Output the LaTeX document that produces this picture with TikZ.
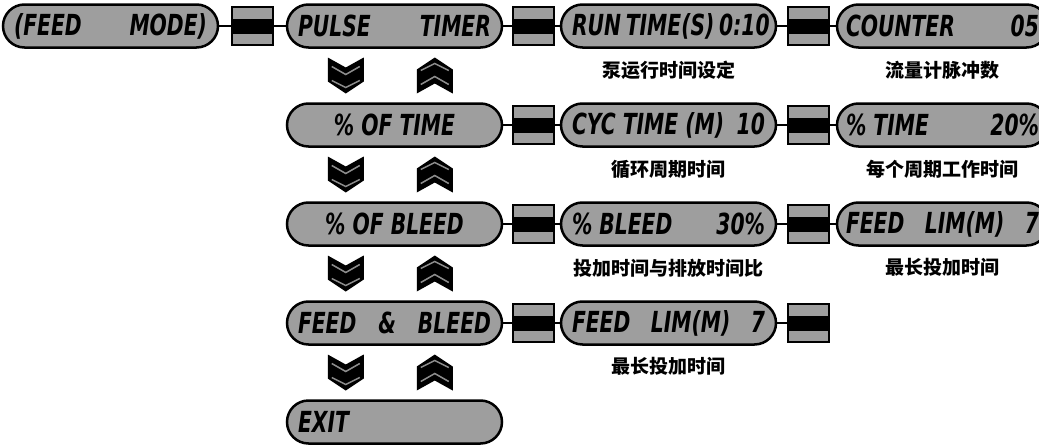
\documentclass[tikz,border=0pt]{standalone}
\usepackage{fontspec}
\usetikzlibrary{positioning,calc}

\newfontfamily\lcdfont[FakeStretch=0.7]{DejaVu Sans}
\newfontfamily\cjkfont{Noto Sans CJK SC}
\newcommand{\disp}[1]{\hbox to 193pt{#1}}

\begin{document}
\begin{tikzpicture}[
        x=1pt, y=1pt, node
        distance=99pt, line width=2pt
    ]

    \tikzstyle{pill} = [rectangle,draw,line width=2.5pt,rounded corners=21.5pt,fill=black!38,
        minimum width=215pt,minimum height=43pt,inner sep=0pt,
        font=\lcdfont\bfseries\itshape\fontsize{29}{31}\selectfont]
    \tikzstyle{link} = [rectangle,draw,line width=1.5pt,fill=black!38,minimum width=41pt,minimum height=38pt,
        path picture={\fill[black] ([yshift=-7.5pt]path picture bounding box.west) rectangle ([yshift=7.5pt]path picture bounding box.east);}]
    \tikzstyle{note} = [inner sep=0pt,font=\cjkfont\bfseries\fontsize{19}{22}\selectfont]

    \tikzset{
        chevdown/.pic={
            \fill (-18,18) -- (0,8) -- (18,18) -- (18,-6) -- (0,-18) -- (-18,-6) -- cycle;
            \draw[black!45,line width=1.5pt] (-14,9) -- (0,1) -- (14,9);
            \draw[black!45,line width=1.5pt] (-14,-5) -- (0,-12) -- (14,-5);
        },
        chevup/.pic={
            \fill (-18,-18) -- (0,-8) -- (18,-18) -- (18,6) -- (0,18) -- (-18,6) -- cycle;
            \draw[black!45,line width=1.5pt] (-14,-9) -- (0,-1) -- (14,-9);
            \draw[black!45,line width=1.5pt] (-14,5) -- (0,12) -- (14,5);
        }
    }

    \useasboundingbox (0,0) rectangle (1039,-447);

    \node[pill] (mode) at (110.5,-26) {\disp{(FEED\hfill MODE)}};
    \node[link] (l1)      [right=12pt of mode]    {};
    \node[pill] (pulse)   [right=12pt of l1]      {\disp{PULSE\hfill TIMER}};
    \node[link] (l2)      [right=9pt of pulse]    {};
    \node[pill] (runtime) [right=5pt of l2]       {\disp{RUN TIME(S) 0:10}};
    \node[link] (l3)      [right=10pt of runtime] {};
    \node[pill,minimum width=211pt] (counter) [right=6pt of l3] {\disp{COUNTER\hfill 05}};

    \node[pill] (pcttime) [below of=pulse]        {\disp{\hfil\% OF TIME\hfil}};
    \node[link] (l4)      [right=9pt of pcttime]  {};
    \node[pill] (cyctime) [right=5pt of l4]       {\disp{CYC TIME (M)\hfill 10}};
    \node[link] (l5)      [right=10pt of cyctime] {};
    \node[pill,minimum width=211pt] (timeset) [right=6pt of l5] {\disp{\% TIME\hfill 20\%}};

    \node[pill] (pctbleed) [below of=pcttime]       {\disp{\hfil\% OF BLEED\hfil}};
    \node[link] (l6)       [right=9pt of pctbleed]  {};
    \node[pill] (bleedset) [right=5pt of l6]        {\disp{\% BLEED\hfill 30\%}};
    \node[link] (l7)       [right=10pt of bleedset] {};
    \node[pill,minimum width=211pt] (feedlim) [right=6pt of l7] {\disp{FEED\hfil LIM(M)\hfil 7}};

    \node[pill] (feedbleed) [below of=pctbleed]       {\disp{FEED\hfil\&\hfil BLEED}};
    \node[link] (l8)        [right=9pt of feedbleed]  {};
    \node[pill] (feedlimb)  [right=5pt of l8]         {\disp{FEED\hfil LIM(M)\hfil 7}};
    \node[link] (l9)        [right=10pt of feedlimb]  {};

    \node[pill] (exit) [below of=feedbleed] {\disp{EXIT\hfil}};

    % Chinese notes under the settings
    \node[note] (runnote)   [below=11pt of runtime]  {泵运行时间设定};
    \node[note] (countnote) [below=11pt of counter]  {流量计脉冲数};
    \node[note] (cycnote)   [below=11pt of cyctime]  {循环周期时间};
    \node[note] (worknote)  [below=11pt of timeset]  {每个周期工作时间};
    \node[note] (rationote) [below=11pt of bleedset] {投加时间与排放时间比};
    \node[note] (limnote)   [below=11pt of feedlim]  {最长投加时间};
    \node[note] (limnoteb)  [below=11pt of feedlimb] {最长投加时间};

    \path[]
        (mode)      edge (l1)
        (l1)        edge (pulse)
        (pulse)     edge (l2)
        (l2)        edge (runtime)
        (runtime)   edge (l3)
        (l3)        edge (counter)
        (pcttime)   edge (l4)
        (l4)        edge (cyctime)
        (cyctime)   edge (l5)
        (l5)        edge (timeset)
        (pctbleed)  edge (l6)
        (l6)        edge (bleedset)
        (bleedset)  edge (l7)
        (l7)        edge (feedlim)
        (feedbleed) edge (l8)
        (l8)        edge (feedlimb)
        (feedlimb)  edge (l9)
    ;

    % up/down keys between the menu rows
    \foreach \a/\b in {pulse/pcttime,pcttime/pctbleed,pctbleed/feedbleed,feedbleed/exit} {
        \path ($(\a.south west)!.5!(\b.north west)$) ++(60,0) pic {chevdown};
        \path ($(\a.south west)!.5!(\b.north west)$) ++(149,0) pic {chevup};
    }

\end{tikzpicture}
\end{document}
